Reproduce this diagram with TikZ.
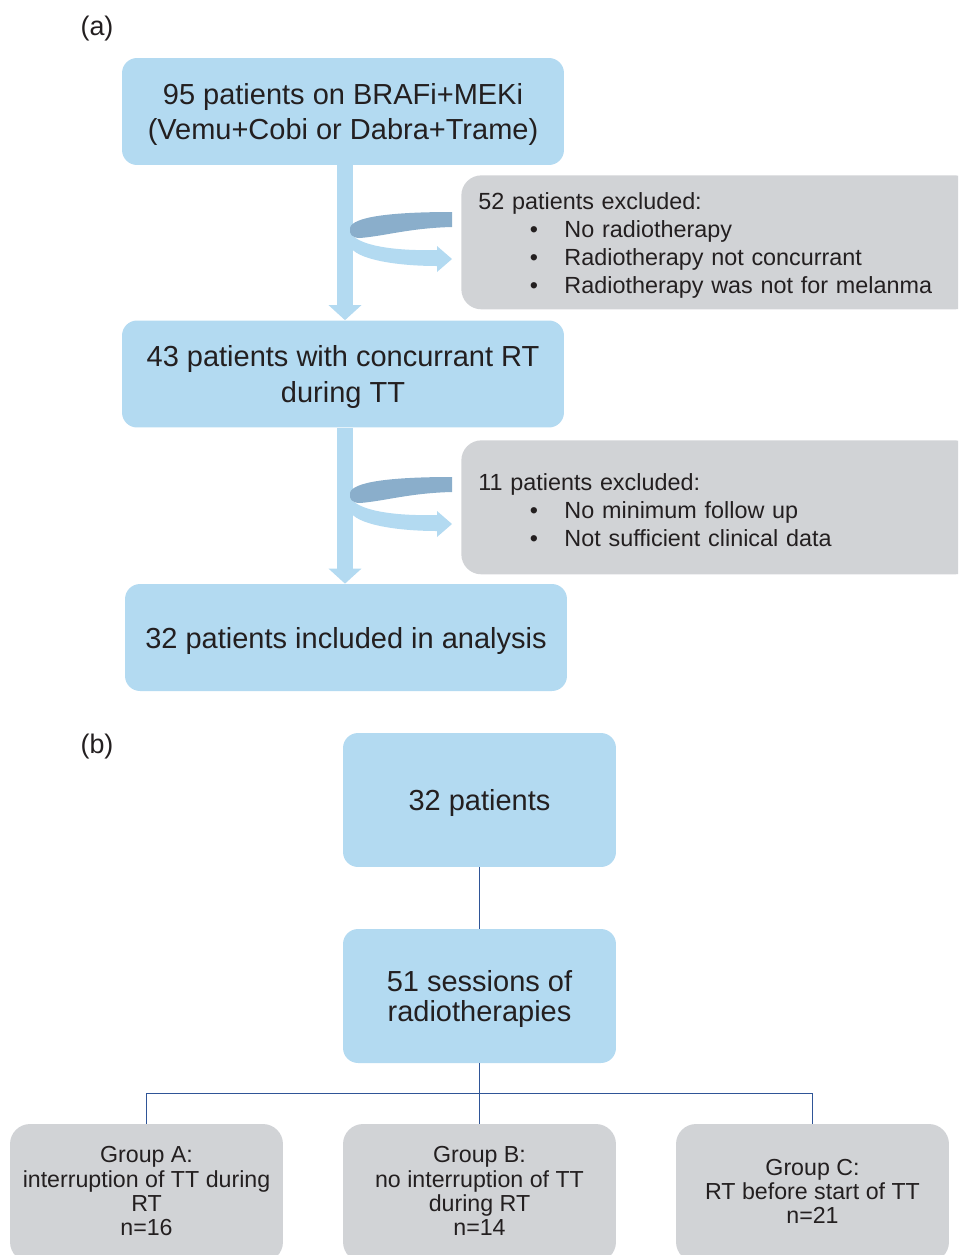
\documentclass[tikz,border=0pt]{standalone}
\usepackage{fontspec}
\setmainfont{Liberation Sans}
\usepackage{tikz}
\usetikzlibrary{arrows.meta}

\definecolor{boxblue}{RGB}{179,218,241}
\definecolor{boxgray}{RGB}{209,211,214}
\definecolor{curvedark}{RGB}{138,174,203}
\definecolor{treeline}{RGB}{47,85,151}
\definecolor{textdark}{RGB}{35,31,32}

\tikzset{
  bluebox/.style={fill=boxblue, rounded corners=0.3cm, align=center, text=textdark,
    minimum width=8.84cm, minimum height=2.14cm, inner sep=0pt, text depth=0pt,
    font=\fontsize{16.5}{20}\selectfont},
  exbox/.style={fill=boxgray, rounded corners=0.4cm, align=left, text=textdark,
    anchor=north west, text width=9.6cm, inner xsep=0.34cm, inner ysep=0pt,
    minimum height=2.68cm, font=\fontsize{13.3}{15.9}\selectfont,
    execute at begin node={\rule{0pt}{13pt}}},
  groupbox/.style={fill=boxgray, rounded corners=0.4cm, align=center, text=textdark,
    minimum width=5.46cm, minimum height=2.76cm, inner sep=0pt, text depth=2.3pt,
    font=\fontsize{13.2}{13.7}\selectfont},
  downarrow/.style={draw=boxblue, line width=0.32cm,
    -{Triangle[width=0.64cm, length=0.3cm]}},
  treeedge/.style={draw=treeline, line width=0.8pt},
  panel/.style={text=textdark, font=\fontsize{15.3}{18}\selectfont, inner sep=0pt}
}

% bullet line of the exclusion boxes
\newcommand{\exitem}[1]{\hspace*{1.03cm}\textbullet\hspace*{0.53cm}#1}

% ribbon arrow bending out of the vertical arrow
\newcommand{\sidecurve}[1]{%
  \begin{scope}[shift={(0,#1)}]
    \fill[boxblue] (353,236) .. controls (365,247) and (400,251) .. (437,250)
      -- (437,246) -- (452,259) -- (437,272) -- (437,266)
      .. controls (395,266) and (355,259) .. (350,246) -- cycle;
    \fill[curvedark] (452,212) .. controls (390,212) and (352,217) .. (350,228)
      .. controls (349,234) and (352,238) .. (360,238)
      .. controls (385,236) and (410,228) .. (452,227) -- cycle;
  \end{scope}}

\begin{document}
\begin{tikzpicture}[x=0.02cm, y=-0.02cm]
  \useasboundingbox (0,0) rectangle (958,1255);
  \clip (0,0) rectangle (958,1255);

  % (a)
  \node[panel] (pa) at (97,29) {(a)};
  \node[bluebox] (start) at (343,111.5) {95 patients on BRAFi+MEKi\\(Vemu+Cobi or Dabra+Trame)};
  \node[bluebox] (concur) at (343,374) {43 patients with concurrant RT\\during TT};
  \node[bluebox] (incl) at (346,637.5) {32 patients included in analysis};

  \node[exbox] (excl1) at (461,175) {52 patients excluded:\\
    \exitem{No radiotherapy}\\
    \exitem{Radiotherapy not concurrant}\\
    \exitem{Radiotherapy was not for melanma}};
  \node[exbox] (excl2) at (461,440) {11 patients excluded:\\
    \exitem{No minimum follow up}\\
    \exitem{Not sufficient clinical data}};

  \draw[downarrow] (start.south -| 345,0) -- (concur.north -| 345,0);
  \draw[downarrow] (concur.south -| 345,0) -- (incl.north -| 345,0);
  \sidecurve{0}
  \sidecurve{265}

  % (b)
  \node[panel] (pb) at (97,747) {(b)};
  \node[bluebox, minimum width=5.46cm, minimum height=2.68cm] (pat) at (479.5,800) {32 patients};
  \node[bluebox, minimum width=5.46cm, minimum height=2.68cm,
    font=\fontsize{16.5}{17.6}\selectfont] (sess) at (479.5,996) {51 sessions of\\radiotherapies};

  \node[groupbox] (grpA) at (146.5,1193) {Group A:\\interruption of TT during\\RT\\n=16};
  \node[groupbox] (grpB) at (479.5,1193) {Group B:\\no interruption of TT\\during RT\\n=14};
  \node[groupbox] (grpC) at (812.5,1193) {Group C:\\RT before start of TT\\n=21};

  \draw[treeedge] (pat) -- (sess);
  \draw[treeedge] (sess.south) -- ++(0,30) coordinate (split);
  \draw[treeedge] (split) -| (grpA.north);
  \draw[treeedge] (split) -- (grpB.north);
  \draw[treeedge] (split) -| (grpC.north);
\end{tikzpicture}
\end{document}
